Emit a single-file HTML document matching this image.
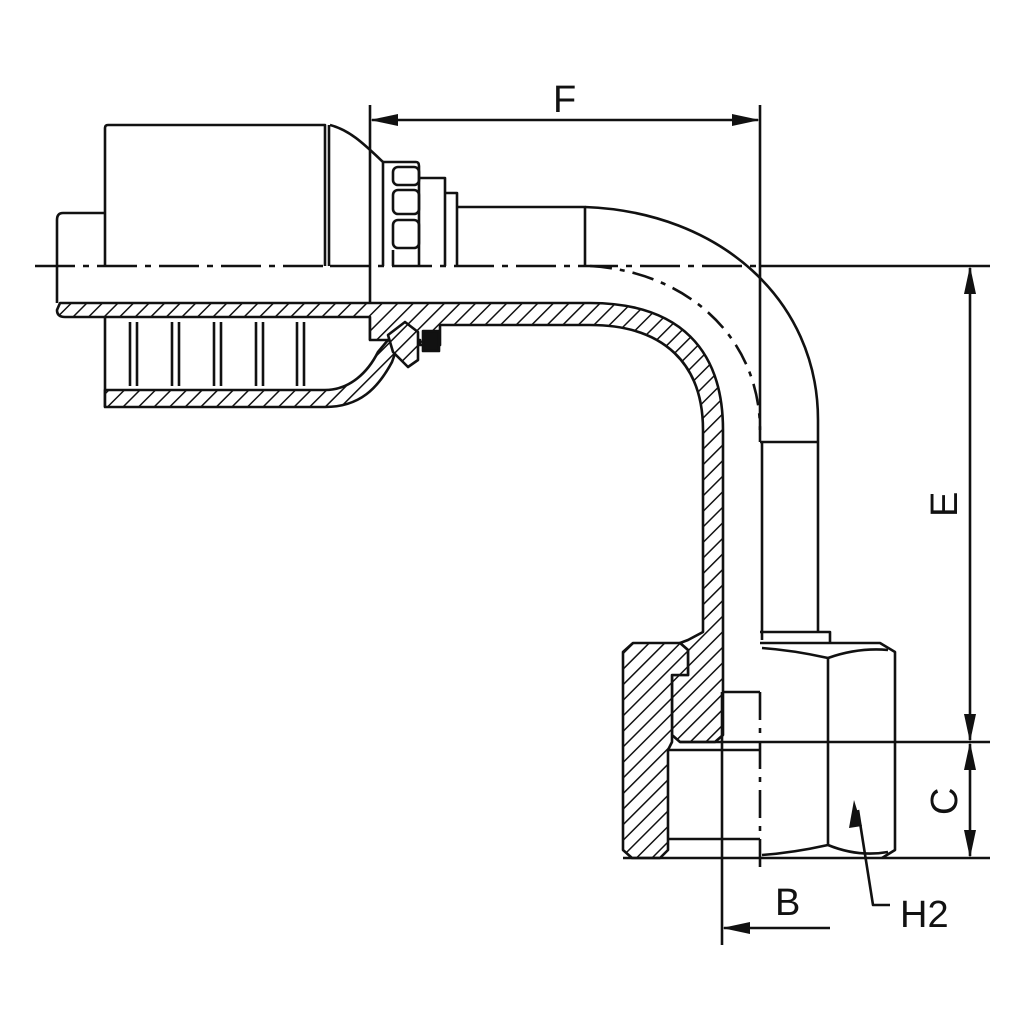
<!DOCTYPE html>
<html><head><meta charset="utf-8"><style>
html,body{margin:0;padding:0;background:#fff;}
svg{display:block;}
text{font-family:"Liberation Sans",sans-serif;fill:#111;}
</style></head><body>
<svg width="1024" height="1024" viewBox="0 0 1024 1024" xmlns="http://www.w3.org/2000/svg">
<defs>
<pattern id="h" width="11" height="11" patternUnits="userSpaceOnUse" patternTransform="rotate(45)">
<rect width="11" height="11" fill="#fff"/>
<line x1="0" y1="0" x2="0" y2="11" stroke="#111" stroke-width="3"/>
</pattern>
</defs>
<g stroke="#111" stroke-width="2.6" fill="none" stroke-linejoin="round">
<path d="M35 266 H330" stroke-dasharray="40 8 6 8"/>
<path d="M330 266 H760" stroke-dasharray="40 8 6 8"/>
<path d="M760 266 H990"/>
<path d="M105 266 V128 Q105 125 108 125 H325 V266"/>
<path d="M329 125 V266"/>
<path d="M105 213 H63 Q57 213 57 220 V303"/>
<path d="M330 125 C350 130 365 145 383 162 V266"/>
<path d="M383 162 H416 Q419 162 419 166 V266"/>
<path d="M393 266 V250"/>
<rect x="393" y="167" width="26" height="18" rx="5"/>
<rect x="393" y="190" width="26" height="24" rx="5"/>
<rect x="393" y="220" width="26" height="28" rx="5"/>
<path d="M419 178 H445 V266"/>
<path d="M445 193 H457 V266"/>
<path d="M457 207 H585 V266"/>
<path d="M585 207 C720 212 818 300 818 420 V632"/>
<path d="M590 266 C690 272 760 340 760 430" stroke-dasharray="22 8 5 8"/>
<path d="M760 442 H818"/>
<path d="M762 442 V640"/>
<path d="M760 692 V875" stroke-dasharray="28 8 5 8"/>
<path d="M370 105 V340"/>
<path d="M760 105 V442"/>
<path fill="url(#h)" d="M60 303 H590 C680 303 723 350 723 430 V735 L715 742 H680 L672 735 V675 H688 V650 L680 643 L688 640 L703 632 V430 C703 365 665 325 590 325 H440 V345 H420 V340 H370 V317 H65 Q57 317 57 310 Z"/>
<path d="M105 317 V407"/>
<path fill="url(#h)" d="M105 390 H325 C350 390 368 372 378 352 L388 340 L398 345 L392 362 C378 388 360 407 325 407 H105 Z"/>
<path d="M130 322 V386 M137 322 V386 M172 322 V386 M179 322 V386 M214 322 V386 M221 322 V386 M256 322 V386 M263 322 V386 M297 322 V386 M304 322 V386"/>
<path fill="url(#h)" d="M388 335 L405 322 L418 332 L418 360 L408 367 L393 352 Z"/>
<rect x="423" y="331" width="16" height="20" fill="#111"/>
<path fill="url(#h)" d="M633 643 H680 L688 650 V675 L672 675 V742 L668 750 V850 L660 858 H632 L623 850 V652 Z"/>
<path d="M668 750 H760 M668 839 H760"/>
<path d="M623 858 H990"/>
<path d="M680 742 H990"/>
<path d="M722 692 H760"/>
<path d="M722 692 V945"/>
<path d="M760 632 H830 V643"/>
<path d="M760 643 H880 L895 652 V850 L882 858"/>
<path d="M762 648 C790 650 810 654 828 658 C845 652 865 648 888 650"/>
<path d="M762 855 C790 853 810 849 828 845 C845 852 865 856 888 852"/>
<path d="M828 658 V845"/>
<path d="M372 120 H758"/>
<path d="M970 268 V740"/>
<path d="M970 744 V856"/>
<path d="M724 928 H830"/>
<path d="M858 810 L873 905 H890"/>
</g>
<g fill="#111">
<polygon points="370,120 398,114 398,126"/>
<polygon points="760,120 732,114 732,126"/>
<polygon points="970,266 964,294 976,294"/>
<polygon points="970,742 964,714 976,714"/>
<polygon points="970,742 964,770 976,770"/>
<polygon points="970,858 964,830 976,830"/>
<polygon points="722,928 750,922 750,934"/>
<polygon points="854,800 849,828 862,826"/>
</g>
<text x="553" y="112" font-size="38">F</text>
<text x="0" y="0" font-size="38" transform="translate(957,517) rotate(-90)">E</text>
<text x="0" y="0" font-size="38" transform="translate(957,815) rotate(-90)">C</text>
<text x="775" y="915" font-size="38">B</text>
<text x="900" y="927" font-size="38">H2</text>
</svg>
</body></html>
